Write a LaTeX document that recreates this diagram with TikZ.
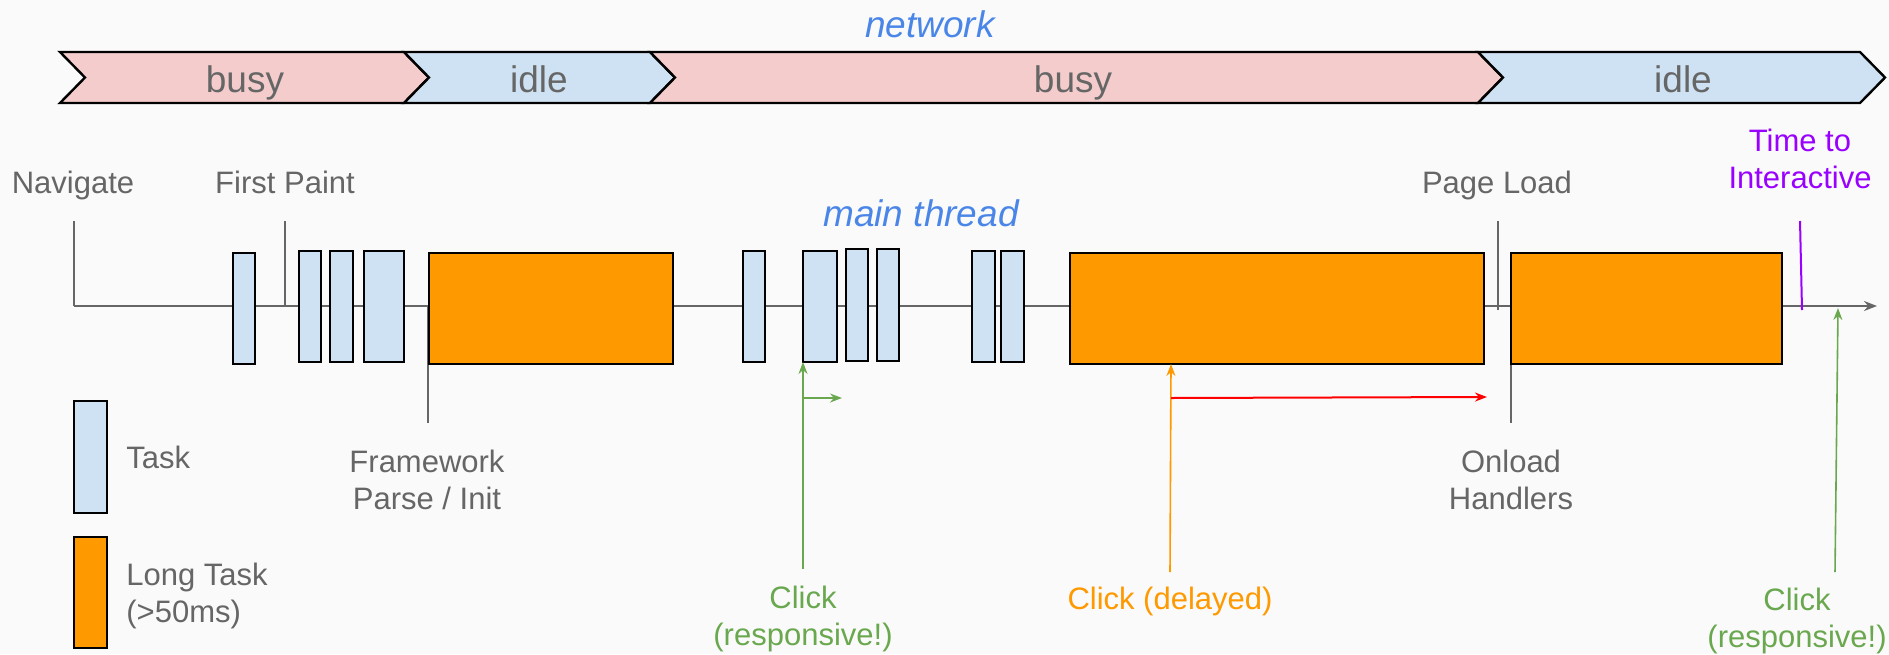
\documentclass[tikz,border=0pt]{standalone}
\usepackage{fontspec}
\setmainfont{Liberation Sans}
\usetikzlibrary{arrows.meta}
\definecolor{bg}{HTML}{FAFAFA}
\definecolor{pinkf}{HTML}{F4CCCC}
\definecolor{bluef}{HTML}{CFE2F3}
\definecolor{orangef}{HTML}{FF9900}
\definecolor{txtgray}{HTML}{666666}
\definecolor{titleblue}{HTML}{4A86E8}
\definecolor{okgreen}{HTML}{6AA84F}
\definecolor{ttipurple}{HTML}{9900FF}
\definecolor{delayred}{HTML}{FF0000}
\newcommand\mkbox[6]{\node[#2, minimum width={(#4-#3)*0.5pt}, minimum height={(#6-#5)*0.5pt}] (#1) at ({(#3+#4)/2},{(#5+#6)/2}) {};}
\tikzset{
  boxbase/.style={draw=black, line width=1pt, inner sep=0pt, outer sep=0pt, rectangle},
  taskbox/.style={boxbase, fill=bluef},
  longbox/.style={boxbase, fill=orangef},
  seg/.style={draw=black, line width=1.2pt, line join=miter},
  lbl/.style={font=\fontsize{15.5}{18.5}\selectfont, text=txtgray, align=center, anchor=base, inner sep=0pt},
  biglbl/.style={font=\fontsize{18.5}{22}\selectfont, text=txtgray, anchor=base, inner sep=0pt},
  title/.style={font=\fontsize{18.5}{22}\selectfont\itshape, text=titleblue, anchor=base, inner sep=0pt},
  marker/.style={draw=txtgray, line width=0.9pt},
  timeline/.style={draw=txtgray, line width=1pt, -{Stealth[length=6.5pt,width=5pt]}},
  greenarrow/.style={draw=okgreen, line width=0.8pt, -{Stealth[length=6pt,width=4.5pt]}},
  orangearrow/.style={draw=orangef, line width=0.8pt, -{Stealth[length=6pt,width=4.5pt]}},
  redarrow/.style={draw=delayred, line width=1pt, -{Stealth[length=6pt,width=4.5pt]}},
}
\begin{document}
\begin{tikzpicture}[x=0.5pt,y=-0.5pt]
\useasboundingbox (0,0) rectangle (1889,654);
\fill[bg] (0,0) rectangle (1889,654);

% network bar
\node[title] (net) at (930,37) {network};
\draw[seg, fill=pinkf] (60,52) -- (404,52) -- (429,77.5) -- (404,103) -- (60,103) -- (85,77.5) -- cycle;
\draw[seg, fill=bluef] (404,52) -- (650,52) -- (675,77.5) -- (650,103) -- (404,103) -- (429,77.5) -- cycle;
\draw[seg, fill=pinkf] (650,52) -- (1478,52) -- (1503,77.5) -- (1478,103) -- (650,103) -- (675,77.5) -- cycle;
\draw[seg, fill=bluef] (1478,52) -- (1860,52) -- (1885,77.5) -- (1860,103) -- (1478,103) -- (1503,77.5) -- cycle;
\node[biglbl] (busy1) at (245,92) {busy};
\node[biglbl] (idle1) at (539,92) {idle};
\node[biglbl] (busy2) at (1073,92) {busy};
\node[biglbl] (idle2) at (1683,92) {idle};

% top labels (multi-line nodes are placed by the baseline of their last line)
\node[lbl] (navlbl) at (73,193) {Navigate};
\node[lbl] (fplbl) at (285,193) {First Paint};
\node[title] (mt) at (921,226) {main thread};
\node[lbl] (pllbl) at (1497,193) {Page Load};
\node[lbl, text=ttipurple] (ttilbl) at (1800,188) {Time to\\Interactive};

% markers and timeline
\coordinate (navtop) at (74,221);
\coordinate (navbot) at (74,306);
\coordinate (tlend) at (1877,306);
\coordinate (fptop) at (285,221);
\coordinate (fpbot) at (285,306);
\coordinate (fwtop) at (428,306);
\coordinate (fwbot) at (428,423);
\coordinate (pltop) at (1498,221);
\coordinate (plbot) at (1498,310);
\coordinate (ontop) at (1511,306);
\coordinate (onbot) at (1511,423);
\coordinate (ttitop) at (1800,221);
\coordinate (ttibot) at (1802,310);
\draw[marker] (navtop) -- (navbot);
\draw[timeline] (navbot) -- (tlend);
\draw[marker] (fptop) -- (fpbot);
\draw[marker] (fwtop) -- (fwbot);
\draw[marker] (pltop) -- (plbot);
\draw[marker] (ontop) -- (onbot);
\draw[draw=ttipurple, line width=1pt] (ttitop) -- (ttibot);

% tasks
\mkbox{t1}{taskbox}{233}{255}{253}{364}
\mkbox{t2}{taskbox}{299}{321}{251}{362}
\mkbox{t3}{taskbox}{330}{353}{251}{362}
\mkbox{t4}{taskbox}{364}{404}{251}{362}
\mkbox{l1}{longbox}{429}{673}{253}{364}
\mkbox{t5}{taskbox}{743}{765}{251}{362}
\mkbox{t6}{taskbox}{803}{837}{251}{362}
\mkbox{t7}{taskbox}{846}{868}{249}{361}
\mkbox{t8}{taskbox}{877}{899}{249}{361}
\mkbox{t9}{taskbox}{972}{995}{251}{362}
\mkbox{t10}{taskbox}{1001}{1024}{251}{362}
\mkbox{l2}{longbox}{1070}{1484}{253}{364}
\mkbox{l3}{longbox}{1511}{1782}{253}{364}

% lower labels
\node[lbl] (fwlbl) at (427,509) {Framework\\Parse / Init};
\node[lbl] (onlbl) at (1511,509) {Onload\\Handlers};

% legend
\mkbox{legtask}{taskbox}{74}{107}{401}{513}
\mkbox{leglong}{longbox}{74}{107}{537}{648}
\node[lbl, anchor=base west, align=left] (legtasklbl) at (126,468) {Task};
\node[lbl, anchor=base west, align=left] (leglonglbl) at (126,622) {Long Task\\(>50ms)};

% clicks
\coordinate (c1bot) at (803,569);
\coordinate (c1mid) at (803,398);
\coordinate (c1end) at (842,398);
\draw[greenarrow] (c1bot) -- (t6.south west);
\draw[greenarrow] (c1mid) -- (c1end);
\node[lbl, text=okgreen] (c1lbl) at (803,645) {Click\\(responsive!)};

\coordinate (c2bot) at (1170,572);
\coordinate (c2top) at (1171,364);
\coordinate (c2mid) at (1171,398);
\coordinate (c2end) at (1487,397);
\draw[orangearrow] (c2bot) -- (c2top);
\draw[redarrow] (c2mid) -- (c2end);
\node[lbl, text=orangef] (c2lbl) at (1170,609) {Click (delayed)};

\coordinate (c3bot) at (1835,572);
\coordinate (c3top) at (1838,308);
\draw[greenarrow] (c3bot) -- (c3top);
\node[lbl, text=okgreen] (c3lbl) at (1797,647) {Click\\(responsive!)};
\end{tikzpicture}
\end{document}
